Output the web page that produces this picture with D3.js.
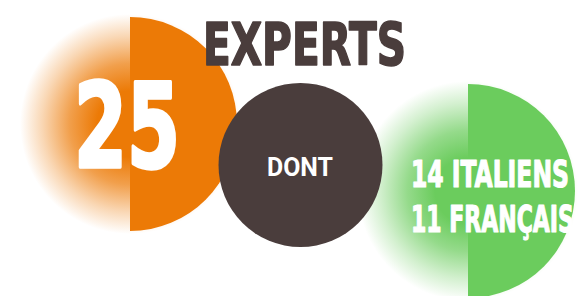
<!DOCTYPE html>
<html>
<head>
<meta charset="utf-8">
<script src="https://cdn.jsdelivr.net/npm/d3@7"></script>
<style>
  html, body { margin: 0; padding: 0; background: #fff; }
  svg { display: block; }
</style>
</head>
<body>
<svg width="582" height="296"></svg>
<script>
// chart values
var totalExperts = [25];
var totalLabel = ["EXPERTS"];
var connectorLabel = ["DONT"];
var breakdownCounts = [14, 11];
var breakdownLabels = ["ITALIENS", "FRANÇAIS"];

var svg = d3.select("svg");
var defs = svg.append("defs");

var ORANGE = "#ec7a06", GREEN = "#6bcc5d", BROWN = "#4a3d3c";
var heavy = "'DejaVu Sans Condensed', 'DejaVu Sans', sans-serif";

// soft edge on the left half of the coloured discs
function fade(id, color) {
    var g = defs.append("radialGradient").attr("id", id)
    var stops = [[0, 1], [0.3, 1], [0.55, 0.72], [0.8, 0.3], [1, 0]]
    stops.forEach(function(s) {
        g.append("stop").attr("offset", s[0]).attr("stop-color", color).attr("stop-opacity", s[1])
    })
}
fade("fadeOrange", ORANGE)
fade("fadeGreen", GREEN)

function halfDisc(cx, cy, r, color, id) {
    defs.append("clipPath").attr("id", "clip-" + id)
        .append("rect").attr("x", cx).attr("y", cy - r - 2).attr("width", r + 2).attr("height", 2 * r + 4)
    svg.append("circle").attr("cx", cx).attr("cy", cy).attr("r", r + 3)
        .attr("fill", "url(#" + (color === ORANGE ? "fadeOrange" : "fadeGreen") + ")")
    svg.append("circle").attr("cx", cx).attr("cy", cy).attr("r", r)
        .attr("fill", color).attr("clip-path", "url(#clip-" + id + ")")
}

// radius scale: both coloured discs stand for the same 25 experts
var rScale = d3.scaleSqrt().domain([0, 25]).range([0, 107]);
var total = d3.sum(breakdownCounts);

halfDisc(130, 124, rScale(totalExperts[0]), ORANGE, "o")
halfDisc(468, 191, rScale(total), GREEN, "g")

svg.append("circle").attr("cx", 300.5).attr("cy", 165).attr("r", 82).attr("fill", BROWN)

// squeeze a text horizontally so that it spans the given width
function fitText(sel, x, y, width) {
    sel.attr("x", 0).attr("y", 0)
    var w = sel.node().getBBox().width
    sel.attr("transform", "translate(" + x + "," + y + ") scale(" + (width / w) + ",1)")
    return sel
}

var t = svg.append("text").text(totalLabel[0])
    .attr("font-family", heavy).attr("font-weight", 700).attr("font-size", 59)
    .attr("fill", BROWN).attr("stroke", BROWN).attr("stroke-width", 1.6).attr("stroke-linejoin", "round")
fitText(t, 203, 65, 203)

t = svg.append("text").text(totalExperts[0])
    .attr("font-family", heavy).attr("font-weight", 700).attr("font-size", 117)
    .attr("fill", "#fff").attr("stroke", "#fff").attr("stroke-width", 3.5).attr("stroke-linejoin", "round")
fitText(t, 74, 167, 106)

t = svg.append("text").text(connectorLabel[0])
    .attr("font-family", "Roboto, sans-serif").attr("font-weight", 700).attr("font-size", 26)
    .attr("fill", "#fff")
fitText(t, 267, 176, 66)

var lineY = [187, 232], lineW = [158, 163];
svg.selectAll("text.breakdown").data(breakdownCounts).enter()
    .append("text").attr("class", "breakdown")
    .text(function(d, i) { return d + " " + breakdownLabels[i]; })
    .attr("font-family", heavy).attr("font-weight", 700).attr("font-size", 38)
    .attr("fill", "#fff").attr("stroke", "#fff").attr("stroke-width", 1.2).attr("stroke-linejoin", "round")
    .each(function(d, i) { fitText(d3.select(this), 411, lineY[i], lineW[i]) })
</script>
</body>
</html>
